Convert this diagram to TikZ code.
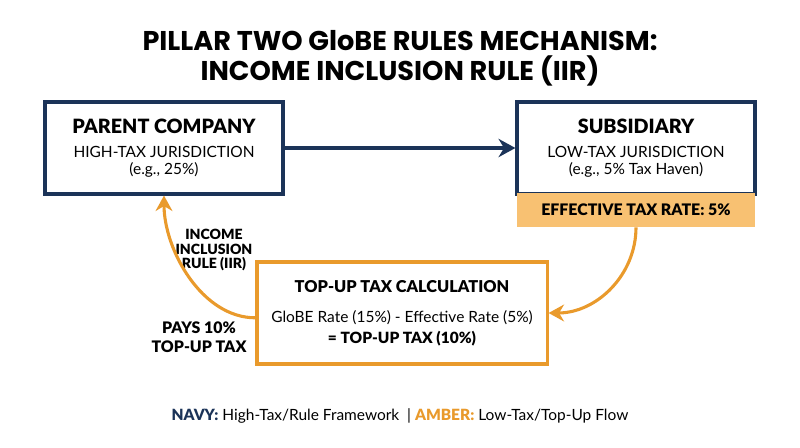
\documentclass[tikz,border=0pt]{standalone}
\usepackage{fontspec}
\setmainfont{Lato}[BoldFont={Lato Black}]
\newfontfamily\titlefont{Poppins}
\usetikzlibrary{arrows.meta}
\definecolor{navy}{HTML}{1B3358}
\definecolor{amber}{HTML}{E99A2C}
\definecolor{paleamber}{HTML}{F8C172}
\tikzstyle{navybox}=[rectangle, draw=navy, line width=2.2pt, fill=white, minimum width=5.95cm, minimum height=2.3cm, align=center, inner sep=0pt]
\tikzstyle{amberbox}=[rectangle, draw=amber, line width=2.2pt, fill=white, minimum width=7.25cm, minimum height=2.55cm, align=center, inner sep=0pt]
\tikzstyle{band}=[rectangle, fill=paleamber, minimum width=5.95cm, minimum height=0.85cm, inner sep=0pt]
\tikzstyle{side_label}=[align=center, font=\fontsize{10}{10.4}\selectfont\bfseries, text=black]
\tikzstyle{navy_arrow}=[draw=navy, line width=2.4pt, -{Stealth[length=12pt,width=13pt]}]
\tikzstyle{amber_arrow}=[draw=amber, line width=2.2pt, -{Stealth[length=11pt,width=12pt]}]

\begin{document}
\begin{tikzpicture}[x=0.025cm, y=-0.025cm]
    \useasboundingbox (0,0) rectangle (800,447);

    \node (title) at (400,58) [align=center, font=\titlefont\fontsize{19.3}{21.5}\selectfont\bfseries] {PILLAR TWO GloBE RULES MECHANISM:\\INCOME INCLUSION RULE (IIR)};

    \node (parent) at (164,148) [navybox] {{\fontsize{14}{16}\selectfont\bfseries PARENT COMPANY}\\[5.5pt]
        {\fontsize{11}{13}\selectfont HIGH-TAX JURISDICTION}\\
        {\fontsize{11}{13}\selectfont (e.g., 25\%)}};
    \node (subsidiary) at (636,148) [navybox] {{\fontsize{14}{16}\selectfont\bfseries SUBSIDIARY}\\[5.5pt]
        {\fontsize{11}{13}\selectfont LOW-TAX JURISDICTION}\\
        {\fontsize{11}{13}\selectfont (e.g., 5\% Tax Haven)}};
    \node (etr) at (636,210) [band] {\fontsize{11.3}{13}\selectfont\bfseries EFFECTIVE TAX RATE: 5\%};

    \node (topup) at (402,313) [amberbox] {{\fontsize{11.6}{14}\selectfont\bfseries TOP-UP TAX CALCULATION}\\[10pt]
        {\fontsize{11}{14}\selectfont GloBE Rate (15\%) - Effective Rate (5\%)}\\[2.5pt]
        {\fontsize{11}{14}\selectfont\bfseries = TOP-UP TAX (10\%)}};

    \node (iir) at (214,250) [side_label] {INCOME\\INCLUSION\\RULE (IIR)};
    \node (pays) at (199,337) [side_label, font=\fontsize{11.3}{13.5}\selectfont\bfseries] {PAYS 10\%\\TOP-UP TAX};

    \draw [navy_arrow] (parent) -- (subsidiary);
    \draw [amber_arrow] (etr.south) to[out=-90, in=0] (topup.east);
    \draw [amber_arrow] ([yshift=-0.12cm]topup.west) to[out=180, in=-90, looseness=0.9] (parent.south);

    \node (legend) at (400,416) [font=\fontsize{11}{13}\selectfont] {\textcolor{navy}{\bfseries NAVY:} High-Tax/Rule Framework \ | \textcolor{amber}{\bfseries AMBER:} Low-Tax/Top-Up Flow};
\end{tikzpicture}
\end{document}
